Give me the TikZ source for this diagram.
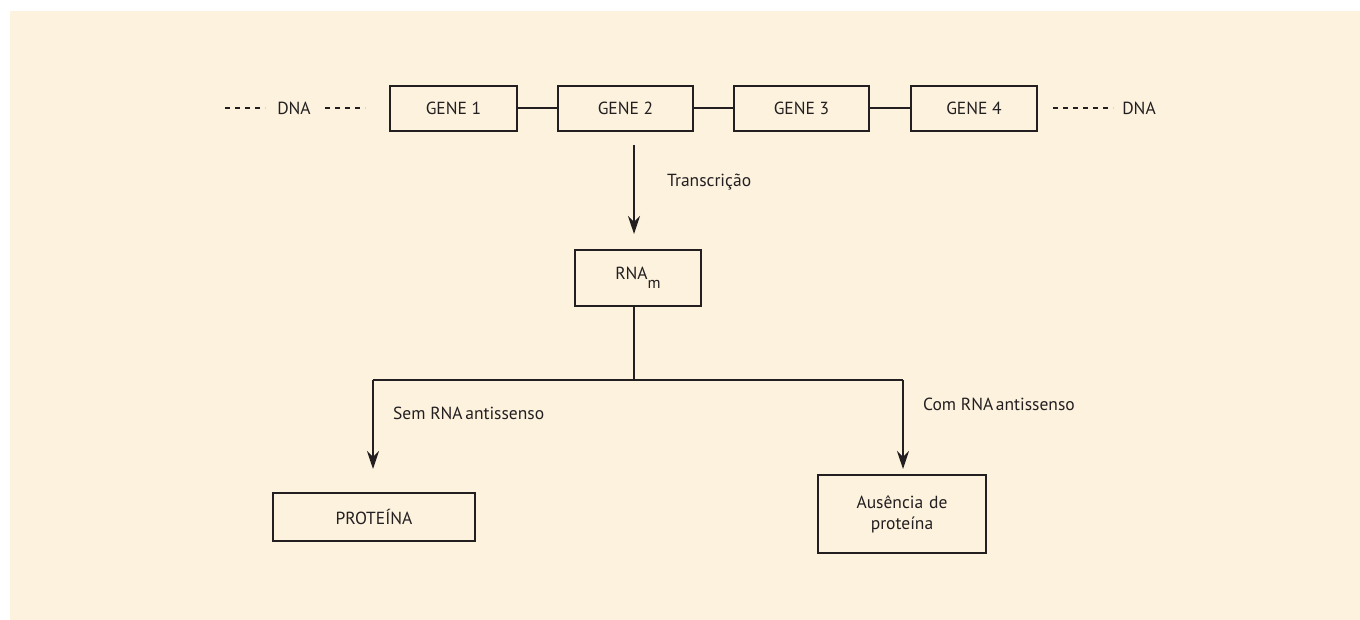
\documentclass[tikz,border=0pt]{standalone}
\usepackage{fontspec}
\setmainfont{PT Sans}
\usetikzlibrary{arrows.meta}
\definecolor{paper}{RGB}{252,242,222}
\definecolor{ink}{RGB}{35,31,32}
\begin{document}
\begin{tikzpicture}[x=1pt,y=-1pt,
  font=\fontsize{17.5}{20}\selectfont,
  box/.style={draw=ink,line width=2pt,text=ink,inner sep=0pt,align=center},
  link/.style={draw=ink,line width=2pt},
  flow/.style={link,-{Stealth[length=18pt,width=12pt,inset=6pt]}},
  dots/.style={draw=ink,line width=1.8pt,dash pattern=on 5pt off 5pt},
  lbl/.style={text=ink,inner sep=0pt,anchor=west}]
  % page and panel
  \useasboundingbox (0,0) rectangle (1360,620);
  \fill[paper] (10,11) rectangle (1360,620);

  % genes on the DNA strand
  \node[box,minimum width=127pt,minimum height=45pt] (g1) at (453.5,108.5) {GENE 1};
  \node[box,minimum width=135pt,minimum height=45pt] (g2) at (625.5,108.5) {GENE 2};
  \node[box,minimum width=135pt,minimum height=45pt] (g3) at (801.5,108.5) {GENE 3};
  \node[box,minimum width=126pt,minimum height=45pt] (g4) at (974,108.5) {GENE 4};
  \draw[link] (g1) -- (g2);
  \draw[link] (g2) -- (g3);
  \draw[link] (g3) -- (g4);

  % DNA ends, drawn as broken strands
  \node[text=ink,inner sep=0pt] (dnaL) at (294,108) {DNA};
  \node[text=ink,inner sep=0pt] (dnaR) at (1139,108) {DNA};
  \coordinate (dl1) at (225,108);  \coordinate (dl2) at (265,108);
  \coordinate (dl3) at (325,108);  \coordinate (dl4) at (365,108);
  \coordinate (dr1) at (1053,108); \coordinate (dr2) at (1113,108);
  \draw[dots] (dl1) -- (dl2);
  \draw[dots] (dl3) -- (dl4);
  \draw[dots] (dr1) -- (dr2);

  % messenger RNA
  \node[box,minimum width=126pt,minimum height=56pt] (rna) at (638,278)
    {\raisebox{4pt}{RNA}\raisebox{-5pt}{\fontsize{16}{18}\selectfont m}};
  \coordinate (tA) at (634,145);
  \draw[flow,shorten >=15pt] (tA) -- (tA |- rna.north);
  \node[lbl] (trans) at (667,182) {Transcrição};

  % branching
  \coordinate (tB) at (634,306);
  \coordinate (fork) at (634,380);
  \coordinate (left) at (373,380);
  \coordinate (right) at (903,380);
  \draw[link] (tB) -- (fork);
  \draw[link] (left) -- (right);

  \node[box,minimum width=202pt,minimum height=48pt] (prot) at (374,517) {PROTEÍNA};
  \node[box,minimum width=168pt,minimum height=78pt,text width=160pt] (noprot) at (902,514)
    {Ausência de\\[1pt]proteína};

  \draw[flow,shorten >=23pt] (left) -- (left |- prot.north);
  \draw[flow,shorten >=5pt] (right) -- (right |- noprot.north);

  \node[lbl] (sem) at (393,413) {Sem RNA\hspace{-2pt} antissenso};
  \node[lbl] (com) at (923,404) {Com RNA\hspace{-2pt} antissenso};
\end{tikzpicture}
\end{document}
